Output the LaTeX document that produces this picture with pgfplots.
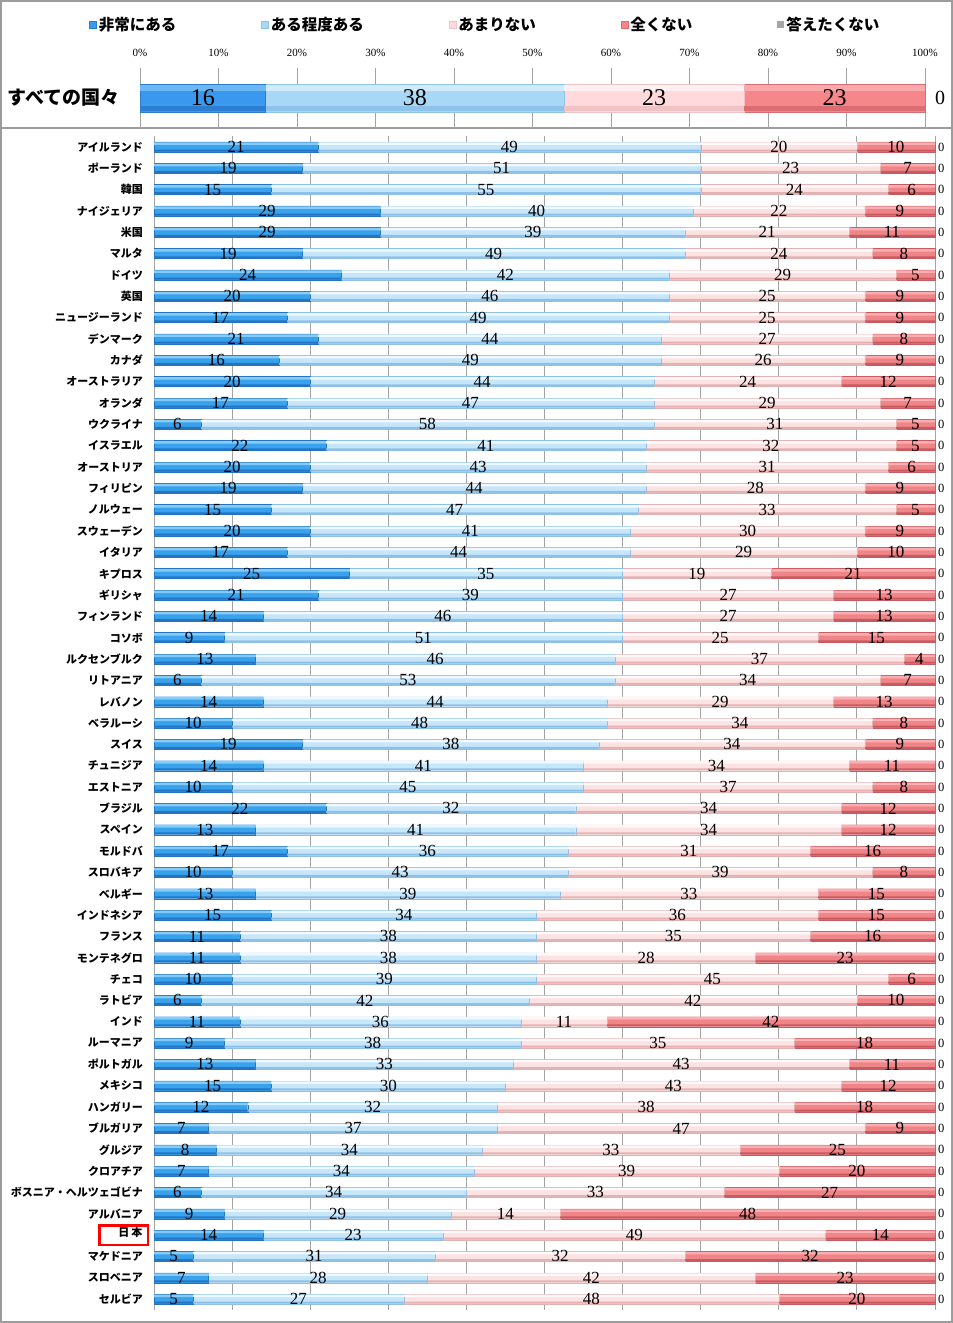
\documentclass[border=0pt]{standalone}
\usepackage{fontspec}
\setmainfont{Liberation Serif}
\newfontfamily\jp{Noto Sans CJK JP}
\usepackage{pgfplots}
\usepackage{pgfplotstable}
\pgfplotsset{compat=1.18}

\definecolor{frame}{HTML}{9C9C9C}
\definecolor{gridc}{HTML}{A3A3A3}
% upper bar: main / highlight / shade
\definecolor{uBlueM}{HTML}{3A99EE}\definecolor{uBlueT}{HTML}{6CB8F3}\definecolor{uBlueB}{HTML}{2C7ED3}
\definecolor{uLblM}{HTML}{A9D8F7}\definecolor{uLblT}{HTML}{CFEBFC}\definecolor{uLblB}{HTML}{8EC3EC}
\definecolor{uPnkM}{HTML}{FFD9DB}\definecolor{uPnkT}{HTML}{FFF0F1}\definecolor{uPnkB}{HTML}{F0C2C4}
\definecolor{uRedM}{HTML}{F5868A}\definecolor{uRedT}{HTML}{F9A8AB}\definecolor{uRedB}{HTML}{DB6C71}
% lower bars
\definecolor{blueM}{HTML}{3AA2EC}\definecolor{blueT}{HTML}{85CDF8}\definecolor{blueB}{HTML}{2474C4}
\definecolor{lblM}{HTML}{C6E6FA}\definecolor{lblT}{HTML}{EFF9FF}\definecolor{lblB}{HTML}{8FC0E7}
\definecolor{pnkM}{HTML}{FCE2E2}\definecolor{pnkT}{HTML}{FFFAFA}\definecolor{pnkB}{HTML}{E3B3B3}
\definecolor{redM}{HTML}{F08589}\definecolor{redT}{HTML}{F9AEB1}\definecolor{redB}{HTML}{C85A60}
\definecolor{grayM}{HTML}{A6A6A6}

% all countries: a = 非常にある, b = ある程度ある, c = あまりない, d = 全くない, e = 答えたくない
\pgfplotstableread{
idx a b c d e
0 21 49 20 10 0
1 19 51 23 7 0
2 15 55 24 6 0
3 29 40 22 9 0
4 29 39 21 11 0
5 19 49 24 8 0
6 24 42 29 5 0
7 20 46 25 9 0
8 17 49 25 9 0
9 21 44 27 8 0
10 16 49 26 9 0
11 20 44 24 12 0
12 17 47 29 7 0
13 6 58 31 5 0
14 22 41 32 5 0
15 20 43 31 6 0
16 19 44 28 9 0
17 15 47 33 5 0
18 20 41 30 9 0
19 17 44 29 10 0
20 25 35 19 21 0
21 21 39 27 13 0
22 14 46 27 13 0
23 9 51 25 15 0
24 13 46 37 4 0
25 6 53 34 7 0
26 14 44 29 13 0
27 10 48 34 8 0
28 19 38 34 9 0
29 14 41 34 11 0
30 10 45 37 8 0
31 22 32 34 12 0
32 13 41 34 12 0
33 17 36 31 16 0
34 10 43 39 8 0
35 13 39 33 15 0
36 15 34 36 15 0
37 11 38 35 16 0
38 11 38 28 23 0
39 10 39 45 6 0
40 6 42 42 10 0
41 11 36 11 42 0
42 9 38 35 18 0
43 13 33 43 11 0
44 15 30 43 12 0
45 12 32 38 18 0
46 7 37 47 9 0
47 8 34 33 25 0
48 7 34 39 20 0
49 6 34 33 27 0
50 9 29 14 48 0
51 14 23 49 14 0
52 5 31 32 32 0
53 7 28 42 23 0
54 5 27 48 20 0
}\countries

% all countries together
\pgfplotstableread{
idx a b c d e
0.5 16 38 23 23 0
}\total

\pgfplotsset{
  upgeom/.style={at={(140bp,-128bp)}, anchor=south west,
    scale only axis, width=785bp, height=60bp,
    xmin=0, xmax=100, ymin=0, ymax=1, clip=false},
  lowgeom/.style={at={(154bp,-1309.75bp)}, anchor=south west,
    scale only axis, width=781bp, height=1173.5bp,
    xmin=0, xmax=100, ymin=-0.5, ymax=54.5, y dir=reverse, clip=false},
  lab/.style={only marks, mark=none, nodes near coords,
    every node near coord/.append style={anchor=center, inner sep=0pt, font=#1}},
  zlab/.style 2 args={only marks, mark=none, nodes near coords,
    every node near coord/.append style={anchor=west, inner sep=0pt, xshift=#2, font=#1}},
}

\begin{document}
\begin{tikzpicture}
\useasboundingbox (0,0) rectangle (953bp,-1323bp);
\draw[frame, line width=2bp] (1bp,-1bp) rectangle (952bp,-1322bp);
\draw[frame, line width=1.5bp] (1bp,-128bp) -- (952bp,-128bp);

% ---------- upper part: all countries ----------
\begin{axis}[
  upgeom,
  xbar stacked, bar width=28bp,
  legend image code/.code={\fill[#1] (0bp,-3.5bp) rectangle (7bp,3.5bp);},
  axis line style={draw=none},
  major tick length=0pt,
  xtick={0,10,...,100},
  xticklabels={0\%,10\%,20\%,30\%,40\%,50\%,60\%,70\%,80\%,90\%,100\%},
  xticklabel pos=upper,
  xticklabel style={font=\fontsize{11bp}{12bp}\selectfont, anchor=south, inner sep=0pt, yshift=11.5bp},
  ytick={0.5}, yticklabels={すべての国々},
  yticklabel style={font=\jp\bfseries\fontsize{19bp}{22bp}\selectfont, anchor=east, inner sep=0pt, xshift=-20bp},
  xmajorgrids, grid style={gridc, line width=1bp},
  legend columns=5,
  legend style={at={(0.44,1.717)}, anchor=center, draw=none, fill=none,
    font=\jp\bfseries\fontsize{15.5bp}{18bp}\selectfont,
    /tikz/every even column/.append style={column sep=83bp}},
]
\addplot[draw=uBlueB, line width=0.5bp, fill=uBlueM] table[x=a, y=idx] {\total};
\addplot[draw=uLblB, line width=0.5bp, fill=uLblM] table[x=b, y=idx] {\total};
\addplot[draw=uPnkB, line width=0.5bp, fill=uPnkM] table[x=c, y=idx] {\total};
\addplot[draw=uRedB, line width=0.5bp, fill=uRedM] table[x=d, y=idx] {\total};
\addplot[draw=none, fill=grayM] table[x=e, y=idx] {\total};
\legend{非常にある, ある程度ある, あまりない, 全くない, 答えたくない}
\end{axis}
% highlight on top of the bar
\begin{axis}[upgeom, hide axis, xbar stacked, bar width=6bp, bar shift=10bp]
\addplot[draw=none, fill=uBlueT] table[x=a, y=idx] {\total};
\addplot[draw=none, fill=uLblT] table[x=b, y=idx] {\total};
\addplot[draw=none, fill=uPnkT] table[x=c, y=idx] {\total};
\addplot[draw=none, fill=uRedT] table[x=d, y=idx] {\total};
\end{axis}
% shade at the bottom of the bar
\begin{axis}[upgeom, hide axis, xbar stacked, bar width=5bp, bar shift=-10.5bp]
\addplot[draw=none, fill=uBlueB] table[x=a, y=idx] {\total};
\addplot[draw=none, fill=uLblB] table[x=b, y=idx] {\total};
\addplot[draw=none, fill=uPnkB] table[x=c, y=idx] {\total};
\addplot[draw=none, fill=uRedB] table[x=d, y=idx] {\total};
\end{axis}
% value labels
\begin{axis}[upgeom, hide axis, /pgf/number format/assume math mode=true]
\addplot[lab={\fontsize{24bp}{24bp}\selectfont}, point meta=\thisrow{a}]
  table[x expr=\thisrow{a}/2, y=idx] {\total};
\addplot[lab={\fontsize{24bp}{24bp}\selectfont}, point meta=\thisrow{b}]
  table[x expr=\thisrow{a}+\thisrow{b}/2, y=idx] {\total};
\addplot[lab={\fontsize{24bp}{24bp}\selectfont}, point meta=\thisrow{c}]
  table[x expr=\thisrow{a}+\thisrow{b}+\thisrow{c}/2, y=idx] {\total};
\addplot[lab={\fontsize{24bp}{24bp}\selectfont}, point meta=\thisrow{d}]
  table[x expr=\thisrow{a}+\thisrow{b}+\thisrow{c}+\thisrow{d}/2, y=idx] {\total};
\addplot[zlab={\fontsize{20bp}{20bp}\selectfont}{10bp}, point meta=\thisrow{e}]
  table[x expr=\thisrow{a}+\thisrow{b}+\thisrow{c}+\thisrow{d}+\thisrow{e}, y=idx] {\total};
\end{axis}

% ---------- lower part: countries ----------
\begin{axis}[
  lowgeom,
  xbar stacked, bar width=10bp,
  axis line style={draw=none},
  major tick length=0pt,
  xtick={0,10,...,100}, xticklabels={},
  xmajorgrids, grid style={gridc, line width=1bp},
  ytick={0,...,54},
  yticklabels={アイルランド,ポーランド,韓国,ナイジェリア,米国,マルタ,ドイツ,英国,ニュージーランド,デンマーク,カナダ,オーストラリア,オランダ,ウクライナ,イスラエル,オーストリア,フィリピン,ノルウェー,スウェーデン,イタリア,キプロス,ギリシャ,フィンランド,コソボ,ルクセンブルク,リトアニア,レバノン,ベラルーシ,スイス,チュニジア,エストニア,ブラジル,スペイン,モルドバ,スロバキア,ベルギー,インドネシア,フランス,モンテネグロ,チェコ,ラトビア,インド,ルーマニア,ポルトガル,メキシコ,ハンガリー,ブルガリア,グルジア,クロアチア,ボスニア・ヘルツェゴビナ,アルバニア,{\llap{\setlength{\fboxrule}{2.5bp}\setlength{\fboxsep}{0pt}\fcolorbox{red}{white}{\makebox[46bp][r]{\rule[-7.5bp]{0pt}{16.5bp}日\,本\hspace{4.5bp}}}\hspace{-7bp}}},マケドニア,スロベニア,セルビア},
  yticklabel style={font=\jp\bfseries\fontsize{11bp}{13bp}\selectfont, anchor=east, inner sep=0pt, xshift=-11bp},
]
\addplot[draw=blueB, line width=0.4bp, fill=blueM] table[x=a, y=idx] {\countries};
\addplot[draw=lblB, line width=0.4bp, fill=lblM] table[x=b, y=idx] {\countries};
\addplot[draw=pnkB, line width=0.4bp, fill=pnkM] table[x=c, y=idx] {\countries};
\addplot[draw=redB, line width=0.4bp, fill=redM] table[x=d, y=idx] {\countries};
\addplot[draw=none, fill=grayM] table[x=e, y=idx] {\countries};
\end{axis}
% highlight on top of each bar
\begin{axis}[lowgeom, hide axis, xbar stacked, bar width=2.5bp, bar shift=3.25bp]
\addplot[draw=none, fill=blueT] table[x=a, y=idx] {\countries};
\addplot[draw=none, fill=lblT] table[x=b, y=idx] {\countries};
\addplot[draw=none, fill=pnkT] table[x=c, y=idx] {\countries};
\addplot[draw=none, fill=redT] table[x=d, y=idx] {\countries};
\end{axis}
% shade at the bottom of each bar
\begin{axis}[lowgeom, hide axis, xbar stacked, bar width=2bp, bar shift=-3.6bp]
\addplot[draw=none, fill=blueB] table[x=a, y=idx] {\countries};
\addplot[draw=none, fill=lblB] table[x=b, y=idx] {\countries};
\addplot[draw=none, fill=pnkB] table[x=c, y=idx] {\countries};
\addplot[draw=none, fill=redB] table[x=d, y=idx] {\countries};
\end{axis}
\begin{axis}[lowgeom, hide axis, /pgf/number format/assume math mode=true]
\addplot[lab={\fontsize{17bp}{17bp}\selectfont}, point meta=\thisrow{a}]
  table[x expr=\thisrow{a}/2, y=idx] {\countries};
\addplot[lab={\fontsize{17bp}{17bp}\selectfont}, point meta=\thisrow{b}]
  table[x expr=\thisrow{a}+\thisrow{b}/2, y=idx] {\countries};
\addplot[lab={\fontsize{17bp}{17bp}\selectfont}, point meta=\thisrow{c}]
  table[x expr=\thisrow{a}+\thisrow{b}+\thisrow{c}/2, y=idx] {\countries};
\addplot[lab={\fontsize{17bp}{17bp}\selectfont}, point meta=\thisrow{d}]
  table[x expr=\thisrow{a}+\thisrow{b}+\thisrow{c}+\thisrow{d}/2, y=idx] {\countries};
\addplot[zlab={\fontsize{12.5bp}{12.5bp}\selectfont}{3bp}, point meta=\thisrow{e}]
  table[x expr=\thisrow{a}+\thisrow{b}+\thisrow{c}+\thisrow{d}+\thisrow{e}, y=idx] {\countries};
\end{axis}
\end{tikzpicture}
\end{document}
